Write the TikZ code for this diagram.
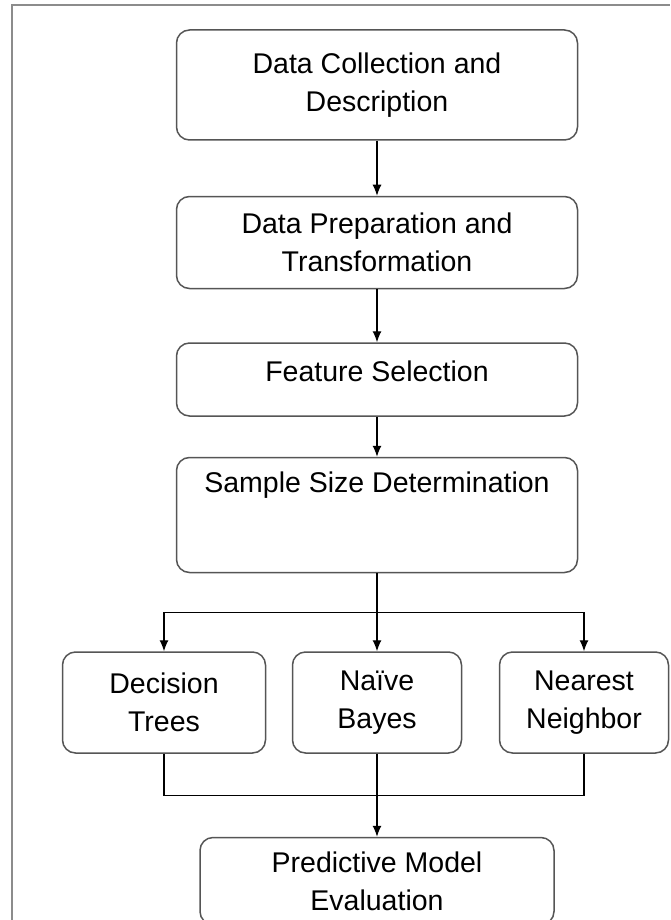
\documentclass[tikz,border=0pt]{standalone}
\usepackage{fontspec}
\setmainfont{Liberation Sans}
\usepackage{tikz}
\usetikzlibrary{arrows.meta,positioning,calc}
\definecolor{boxgray}{RGB}{85,85,85}
\definecolor{framegray}{RGB}{140,140,140}
\tikzset{
block/.style = {draw=boxgray, line width=1.5pt, fill=white, rectangle, rounded corners=13pt, align=center, inner sep=5pt, font=\fontsize{28.5}{38}\selectfont},
wide/.style  = {block, minimum width=401pt},
small/.style = {block, minimum width=169pt, minimum height=101pt},
tmp/.style   = {coordinate},
line/.style  = {draw, black, line width=1.2pt}
}
\begin{document}
\begin{tikzpicture}[x=1pt, y=1pt, auto, >={Latex[length=11pt,width=9pt]}]
    \useasboundingbox (0,0) rectangle (670,-920);
    % outer frame
    \draw [framegray, line width=1.2pt] (12,-920) |- (670,-5);

    \node [wide, minimum height=110pt] at (377,-85) (collect) {Data Collection and\\Description};
    \node [wide, minimum height=92pt, below=55pt of collect] (prep) {Data Preparation and\\Transformation};
    \node [wide, minimum height=73pt, text height=33pt, text depth=30pt, below=53pt of prep] (feature) {Feature Selection};
    \node [wide, minimum height=115pt, text height=30pt, text depth=75pt, below=40pt of feature] (sample) {Sample Size Determination};

    \node [small, below=78pt of sample] (bayes) {Naïve\\Bayes};
    \node [small, minimum width=203pt, left=25.5pt of bayes] (trees) {Decision\\Trees};
    \node [small, right=36.5pt of bayes] (neighbor) {Nearest\\Neighbor};

    \node [block, minimum width=354pt, minimum height=87pt, below=83pt of bayes] (evaluate) {Predictive Model\\Evaluation};

    \node [tmp] at ($(sample.south)!0.5!(bayes.north)$) (split) {};
    \node [tmp] at ($(bayes.south)!0.5!(evaluate.north)$) (merge) {};

    \draw [line,->] (collect) -- (prep);
    \draw [line,->] (prep) -- (feature);
    \draw [line,->] (feature) -- (sample);
    \draw [line,->] (sample) -- (bayes);
    \draw [line,->] (split) -| (trees);
    \draw [line,->] (split) -| (neighbor);
    \draw [line] (trees) |- (merge);
    \draw [line] (neighbor) |- (merge);
    \draw [line,->] (bayes) -- (evaluate);
\end{tikzpicture}
\end{document}
